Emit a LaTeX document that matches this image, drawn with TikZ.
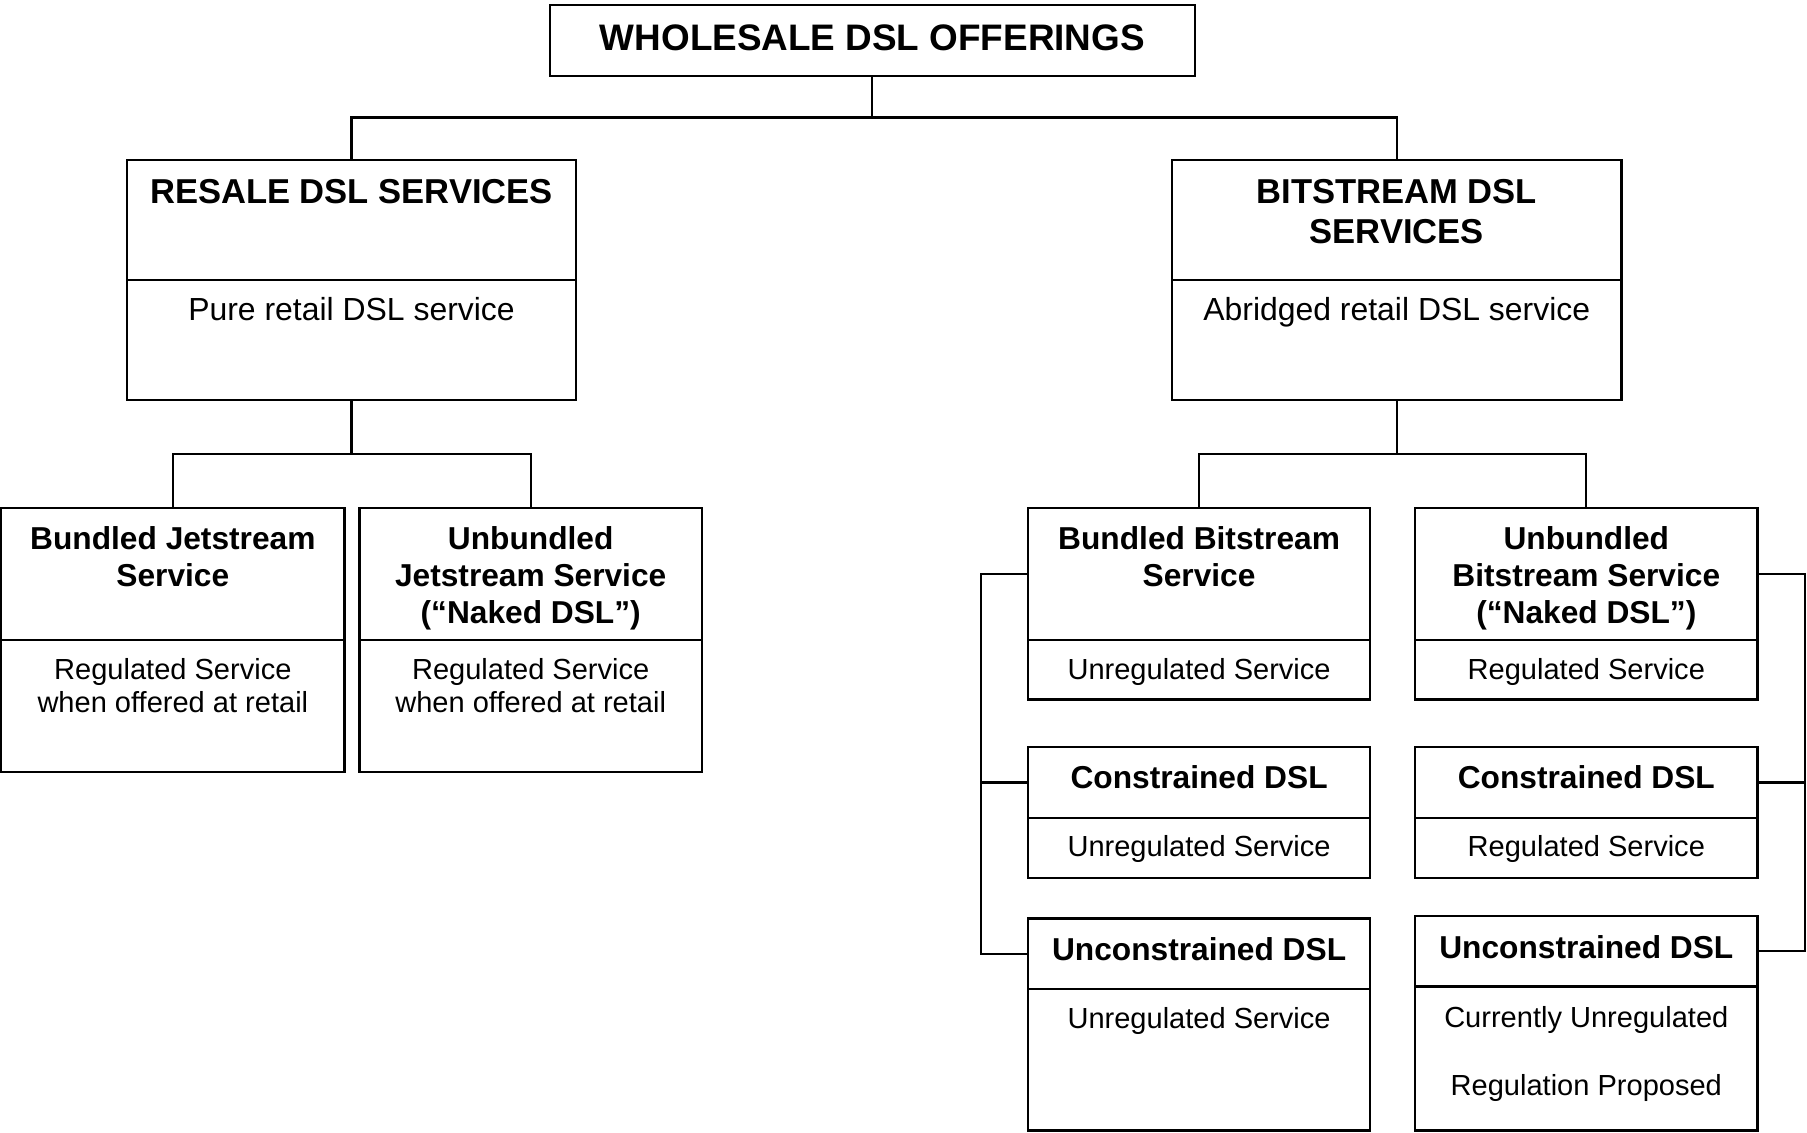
\documentclass[tikz,border=0pt]{standalone}
\usepackage{fontspec}
\setmainfont{Liberation Sans}
\begin{document}
\begin{tikzpicture}[x=1pt,y=-1pt]
\tikzset{
  box/.style={draw, line width=1.9pt, inner sep=0pt, outer sep=0pt, anchor=north west},
  link/.style={line width=1.9pt},
  lbl/.style={inner sep=0pt, anchor=north, align=center},
  ftop/.style={lbl, font=\bfseries\fontsize{32}{38}\selectfont},
  fsec/.style={lbl, font=\bfseries\fontsize{30}{35}\selectfont},
  fsecr/.style={lbl, font=\fontsize{27.7}{32}\selectfont},
  fb/.style={lbl, font=\bfseries\fontsize{27.5}{32}\selectfont},
  fr/.style={lbl, font=\fontsize{25.2}{29}\selectfont}
}
\newcommand\mybox[6]{%
  \node[box, minimum width={#4-#2}, minimum height={#5-#3}] (#1) at (#2,#3) {};
  \node[box, minimum width={#4-#2}, minimum height={#6-#5}] (#1-b) at (#2,#5) {};
}
\useasboundingbox (0,0) rectangle (1568,983);
% top
\node[box, minimum width=560, minimum height=62] (top) at (477,4) {};
\node[ftop] (t-top) at (top |- 0,21.5) {WHOLESALE DSL OFFERINGS};
% second level
\mybox{res}{110}{139}{500}{243}{347}
\mybox{bit}{1017}{139}{1407}{243}{347}
\node[fsec] (t-res) at (res |- 0,155) {RESALE DSL SERVICES};
\node[fsecr] (t-res-b) at (res |- 0,258) {Pure retail DSL service};
\node[fsec] (t-bit) at (bit |- 0,155) {BITSTREAM DSL\\SERVICES};
\node[fsecr] (t-bit-b) at (bit |- 0,258) {Abridged retail DSL service};
% third level left
\mybox{bj}{1}{441}{299}{555}{670}
\mybox{uj}{312}{441}{609}{555}{670}
\node[fb] (t-bj) at (bj |- 0,457) {Bundled Jetstream\\Service};
\node[fr] (t-bj-b) at (bj |- 0,571) {Regulated Service\\when offered at retail};
\node[fb] (t-uj) at (uj |- 0,457) {Unbundled\\Jetstream Service\\(“Naked DSL”)};
\node[fr] (t-uj-b) at (uj |- 0,571) {Regulated Service\\when offered at retail};
% third level right
\mybox{bb}{892}{441}{1189}{555}{607}
\mybox{ub}{1228}{441}{1525}{555}{607}
\node[fb] (t-bb) at (bb |- 0,457) {Bundled Bitstream\\Service};
\node[fr] (t-bb-b) at (bb |- 0,571) {Unregulated Service};
\node[fb] (t-ub) at (ub |- 0,457) {Unbundled\\Bitstream Service\\(“Naked DSL”)};
\node[fr] (t-ub-b) at (ub |- 0,571) {Regulated Service};
\mybox{cl}{892}{648}{1189}{710}{762}
\mybox{cr}{1228}{648}{1525}{710}{762}
\node[fb] (t-cl) at (cl |- 0,664) {Constrained DSL};
\node[fr] (t-cl-b) at (cl |- 0,725) {Unregulated Service};
\node[fb] (t-cr) at (cr |- 0,664) {Constrained DSL};
\node[fr] (t-cr-b) at (cr |- 0,725) {Regulated Service};
\mybox{ul}{892}{797}{1189}{858}{981}
\mybox{ur}{1228}{795}{1525}{856}{981}
\node[fb] (t-ul) at (ul |- 0,813) {Unconstrained DSL};
\node[fr] (t-ul-b) at (ul |- 0,874) {Unregulated Service};
\node[fb] (t-ur) at (ur |- 0,812) {Unconstrained DSL};
\node[fr] (t-ur-b) at (ur |- 0,873) {Currently Unregulated\\[30pt]Regulation Proposed};
% connectors
\draw[link] (top.south) -- ++(0,36) -| (res.north);
\draw[link] (top.south) -- ++(0,36) -| (bit.north);
\draw[link] (res-b.south) -- ++(0,47) -| (bj.north);
\draw[link] (res-b.south) -- ++(0,47) -| (uj.north);
\draw[link] (bit-b.south) -- ++(0,47) -| (bb.north);
\draw[link] (bit-b.south) -- ++(0,47) -| (ub.north);
\coordinate (lbar) at (851,0);
\coordinate (rbar) at (1566,0);
\draw[link] (bb.west) -| (lbar |- ul.west) -- (ul.west);
\draw[link] (cl.west) -- (lbar |- cl.west);
\draw[link] (ub.east) -| (rbar |- ur.east) -- (ur.east);
\draw[link] (cr.east) -- (rbar |- cr.east);
\end{tikzpicture}
\end{document}
